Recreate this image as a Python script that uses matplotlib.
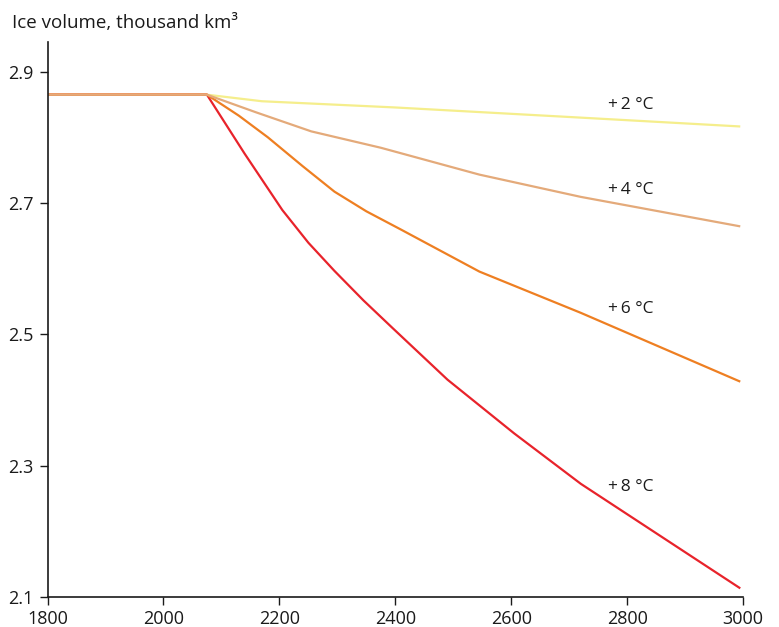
import matplotlib
matplotlib.use("Agg")
import matplotlib.pyplot as plt

plt.rcParams['font.family'] = ['Open Sans', 'DejaVu Sans']

# Ice volume (thousand km^3) under different warming scenarios
years_2c = [1800, 2075, 2170, 2400, 2720, 2995]
ice_2c = [2.866, 2.866, 2.856, 2.8465, 2.831, 2.8175]

years_4c = [1800, 2075, 2160, 2255, 2375, 2545, 2720, 2995]
ice_4c = [2.866, 2.866, 2.839, 2.810, 2.785, 2.744, 2.710, 2.665]

years_6c = [1800, 2075, 2130, 2180, 2240, 2295, 2350, 2410, 2545, 2720, 2995]
ice_6c = [2.866, 2.866, 2.834, 2.801, 2.757, 2.718, 2.688, 2.660, 2.596, 2.533, 2.428]

years_8c = [1800, 2075, 2140, 2205, 2250, 2295, 2345, 2395, 2490, 2605, 2720, 2995]
ice_8c = [2.866, 2.866, 2.776, 2.690, 2.640, 2.597, 2.552, 2.510, 2.431, 2.349, 2.272, 2.1125]

scenario_labels = ["+\u20092 \u00b0C", "+\u20094 \u00b0C", "+\u20096 \u00b0C", "+\u20098 \u00b0C"]
label_year = 2767
label_values = [2.851, 2.721, 2.539, 2.267]

x_ticks = [1800, 2000, 2200, 2400, 2600, 2800, 3000]
y_ticks = [2.1, 2.3, 2.5, 2.7, 2.9]

colors = {"2": "#F5EE8C", "4": "#E4AA7A", "6": "#EE7F22", "8": "#E8232B"}

fig = plt.figure(figsize=(7.79, 6.27), dpi=100)
ax = fig.add_axes([0.061, 0.0486, 0.893, 0.885])

lw = 1.6
ax.plot(years_2c, ice_2c, color=colors["2"], lw=lw, solid_capstyle='butt', solid_joinstyle='round')
ax.plot(years_8c, ice_8c, color=colors["8"], lw=lw, solid_capstyle='butt', solid_joinstyle='round')
ax.plot(years_6c, ice_6c, color=colors["6"], lw=lw, solid_capstyle='butt', solid_joinstyle='round')
ax.plot(years_4c, ice_4c, color=colors["4"], lw=lw, solid_capstyle='butt', solid_joinstyle='round')

for txt, v in zip(scenario_labels, label_values):
    ax.text(label_year, v, txt, fontsize=12.5, va='center', ha='left', color='#1a1a1a')

ax.set_xlim(1800, 3000)
ax.set_ylim(2.1, 2.947)
ax.set_xticks(x_ticks)
ax.set_xticklabels([str(t) for t in x_ticks])
ax.set_yticks(y_ticks)
ax.set_yticklabels([f"{t:.1f}" for t in y_ticks])

for side in ("top", "right"):
    ax.spines[side].set_visible(False)
for side in ("left", "bottom"):
    ax.spines[side].set_linewidth(1.2)
    ax.spines[side].set_color('#1a1a1a')

ax.tick_params(direction='out', length=6, width=1.0, color='#1a1a1a',
               labelsize=13, pad=4, labelcolor='#1a1a1a')

fig.text(0.015, 0.955, "Ice volume, thousand km\u00b3", fontsize=13.5,
         ha='left', va='baseline', color='#1a1a1a')

fig.savefig("out.png", dpi=100)
